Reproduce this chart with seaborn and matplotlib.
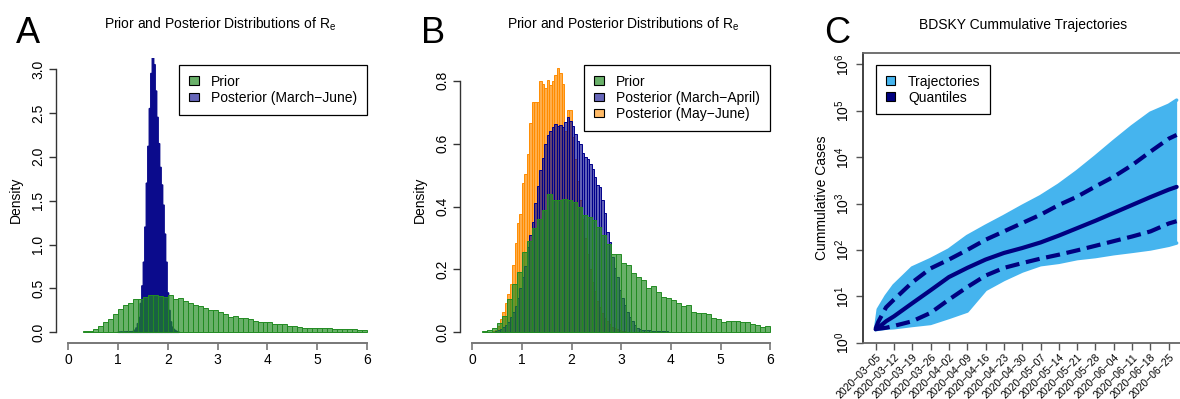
import numpy as np
import pandas as pd
import matplotlib
matplotlib.use("Agg")
import matplotlib.pyplot as plt
from matplotlib.patches import Patch
from matplotlib.colors import to_rgba
import seaborn as sns

# ---------------- DATA ----------------
# Panel A: prior (bins 0.1 wide from 0.3), posterior March-June (bins 0.03 wide from 0.995)
prior_a_start, prior_a_width = 0.3, 0.1
prior_a = [0.01, 0.015, 0.04, 0.07, 0.12, 0.155, 0.21, 0.265, 0.31, 0.34,
           0.375, 0.38, 0.405, 0.42, 0.42, 0.41, 0.405, 0.42, 0.375, 0.39,
           0.36, 0.33, 0.31, 0.30, 0.275, 0.255, 0.255, 0.23, 0.205, 0.18,
           0.185, 0.165, 0.16, 0.15, 0.135, 0.12, 0.115, 0.115, 0.095, 0.10,
           0.09, 0.07, 0.07, 0.06, 0.055, 0.055, 0.05, 0.05, 0.045, 0.045,
           0.04, 0.04, 0.038, 0.035, 0.035, 0.03, 0.03]
post_a_start, post_a_width = 0.995, 0.03
post_a = [0.002, 0.002, 0.003, 0.003, 0.003, 0.004, 0.004, 0.005,
          0.005, 0.008, 0.012, 0.025, 0.05, 0.10, 0.17, 0.33, 0.53, 0.80,
          1.20, 1.70, 2.12, 2.55, 2.95, 3.14, 3.05, 2.75, 2.45, 2.15,
          1.88, 1.68, 1.45, 1.12, 0.80, 0.45, 0.25, 0.12, 0.06, 0.035,
          0.02, 0.01, 0.005]

# Panel B: prior (bins 0.1 from 0.2), posteriors (bins 0.05)
prior_b_start, prior_b_width = 0.2, 0.1
prior_b = [0.003, 0.006, 0.015, 0.03, 0.052, 0.105, 0.154, 0.193, 0.255, 0.29,
           0.333, 0.36, 0.39, 0.44, 0.42, 0.42, 0.423, 0.42, 0.415, 0.40,
           0.373, 0.368, 0.357, 0.336, 0.31, 0.28, 0.25, 0.249, 0.22, 0.214,
           0.188, 0.175, 0.166, 0.14, 0.147, 0.128, 0.111, 0.108, 0.103, 0.094,
           0.084, 0.086, 0.066, 0.063, 0.062, 0.059, 0.045, 0.043, 0.033, 0.035,
           0.035, 0.035, 0.032, 0.033, 0.028, 0.022, 0.017, 0.019]
post_b_width = 0.05
mar_apr_start = 0.45
mar_apr = [0.004, 0.006, 0.01, 0.016, 0.024, 0.034, 0.048, 0.065, 0.085, 0.11,
           0.14, 0.175, 0.21, 0.27, 0.31, 0.35, 0.41, 0.465, 0.515, 0.555,
           0.60, 0.627, 0.641, 0.654, 0.664, 0.656, 0.66, 0.654, 0.67, 0.686,
           0.672, 0.655, 0.63, 0.61, 0.60, 0.57, 0.556, 0.55, 0.535, 0.52,
           0.495, 0.47, 0.462, 0.42, 0.38, 0.32, 0.288, 0.24, 0.203, 0.177,
           0.134, 0.108, 0.087, 0.066, 0.05, 0.036, 0.024, 0.015, 0.011, 0.009,
           0.008, 0.007, 0.006, 0.005, 0.005, 0.004, 0.004, 0.003, 0.003, 0.003,
           0.002, 0.002, 0.002, 0.002, 0.001, 0.001, 0.001]
may_jun_start = 0.40
may_jun = [0.003, 0.008, 0.02, 0.041, 0.066, 0.092, 0.122, 0.154, 0.214, 0.283,
           0.347, 0.376, 0.474, 0.505, 0.566, 0.666, 0.733, 0.731, 0.733, 0.798,
           0.79, 0.776, 0.804, 0.785, 0.80, 0.818, 0.84, 0.824, 0.79, 0.64,
           0.707, 0.707, 0.62, 0.55, 0.48, 0.42, 0.36, 0.30, 0.25, 0.20,
           0.16, 0.13, 0.10, 0.08, 0.06, 0.045, 0.035, 0.025, 0.018, 0.013,
           0.01, 0.007, 0.005, 0.003, 0.002, 0.001]

# Panel C: days since 2020-03-05, cumulative cases
traj_days = [0, 1, 4, 7, 14, 21, 28, 35, 42, 49, 56, 63, 70, 77, 84, 91, 98, 105, 112, 115]
traj_low = [1.9, 1.95, 2.05, 2.1, 2.35, 2.6, 3.5, 4.8, 14, 23, 35, 48, 54, 65, 72, 83, 93, 105, 126, 141]
traj_high = [2, 5.2, 10, 17, 41, 62, 100, 195, 324, 525, 871, 1410, 2510, 4900, 10200,
             21900, 45700, 89100, 132000, 170000]
q_low = [2, 2, 2.1, 2.3, 2.9, 4.4, 8.5, 15.8, 28, 41, 52, 65, 79, 98, 123, 155, 195, 251, 372, 417]
q_med = [1.95, 2.1, 2.9, 3.7, 7.1, 13.5, 26, 41, 62, 86, 110, 145, 204, 295, 427, 631, 933,
         1380, 2000, 2290]
q_high = [2, 2.8, 5.8, 8.5, 20, 40, 62, 100, 166, 251, 380, 575, 933, 1410, 2340, 3800, 6760,
          13200, 25100, 30200]
week_days = [0, 7, 14, 21, 28, 35, 42, 49, 56, 63, 70, 77, 84, 91, 98, 105, 112]
week_labels = ["2020-03-05", "2020-03-12", "2020-03-19", "2020-03-26", "2020-04-02",
               "2020-04-09", "2020-04-16", "2020-04-23", "2020-04-30", "2020-05-07",
               "2020-05-14", "2020-05-21", "2020-05-28", "2020-06-04", "2020-06-11",
               "2020-06-18", "2020-06-25"]

# ---------------- STYLE ----------------
sns.set_style("white")
plt.rcParams["font.family"] = ["Liberation Sans", "DejaVu Sans"]
plt.rcParams["mathtext.fontset"] = "custom"
plt.rcParams["mathtext.rm"] = "Liberation Sans"
for k in ["text.color", "axes.labelcolor", "xtick.color", "ytick.color"]:
    plt.rcParams[k] = "black"

GREEN, BLUE, ORANGE = "#228B22", "#00008B", "#FF8C00"
LIGHT, NAVY = "#45B4EE", "#000080"
W, H = 1180, 399


def px(x, y):
    return x / W, 1 - y / H


def hist(ax, start, width, dens, color, alpha, lw=0.7, **kw):
    edges = start + width * np.arange(len(dens) + 1)
    df = pd.DataFrame({"mid": edges[:-1] + width / 2, "dens": dens})
    sns.histplot(data=df, x="mid", weights="dens", bins=list(edges), ax=ax,
                 color=color, alpha=alpha, edgecolor=color, linewidth=lw, **kw)


def r_axes(ax, xticks, yticks, ylabels):
    ax.set_xlim(-0.24, 6.24)
    for s in ["top", "right"]:
        ax.spines[s].set_visible(False)
    ax.set_xticks(xticks)
    ax.set_yticks(yticks)
    ax.set_yticklabels(ylabels, rotation=90, va="center")
    ax.spines["bottom"].set_bounds(xticks[0], xticks[-1])
    ax.spines["left"].set_bounds(yticks[0], yticks[-1])
    ax.spines["bottom"].set_color("#777777")
    ax.spines["bottom"].set_linewidth(1.4)
    ax.spines["left"].set_color("#333333")
    ax.spines["left"].set_linewidth(1.0)
    ax.tick_params(axis="x", bottom=True, direction="out", length=5, width=1.2,
                   color="#777777", labelsize=10, pad=2)
    ax.tick_params(axis="y", left=True, direction="out", length=5, width=1.0,
                   color="#333333", labelsize=10, pad=3)
    ax.set_xlabel("")
    ax.set_ylabel("")
    ax.grid(False)


def legend(ax, handles, labels, loc, anchor):
    leg = ax.legend(handles, labels, loc=loc, bbox_to_anchor=anchor, fontsize=10,
                    frameon=True, fancybox=False, framealpha=1, edgecolor="black",
                    borderpad=0.7, handlelength=0.7, handleheight=0.6,
                    handletextpad=0.9, labelspacing=0.15, borderaxespad=0)
    leg.get_frame().set_linewidth(0.9)


def box(c, a):
    return Patch(facecolor=to_rgba(c, a), edgecolor="black", linewidth=0.8)


fig = plt.figure(figsize=(W / 100, H / 100), dpi=100)

# ---------------- PANEL A ----------------
ax_a = fig.add_axes([56.4 / W, 0.1406, 322.6 / W, 0.715])
hist(ax_a, post_a_start, post_a_width, post_a, "#0B0B8C", 1.0, lw=1.0, snap=False)
hist(ax_a, prior_a_start, prior_a_width, prior_a, GREEN, 0.68)
ax_a.set_ylim(-0.12, 3.13)
r_axes(ax_a, range(7), [0, 0.5, 1, 1.5, 2, 2.5, 3],
       ["0.0", "0.5", "1.0", "1.5", "2.0", "2.5", "3.0"])
legend(ax_a, [box(GREEN, 0.68), box(BLUE, 0.6)], ["Prior", "Posterior (March\u2212June)"],
       "upper right", (0.963, 0.974))

# ---------------- PANEL B ----------------
ax_b = fig.add_axes([460.4 / W, 0.1406, 321.8 / W, 0.715])
hist(ax_b, may_jun_start, post_b_width, may_jun, ORANGE, 0.7)
hist(ax_b, mar_apr_start, post_b_width, mar_apr, BLUE, 0.62)
hist(ax_b, prior_b_start, prior_b_width, prior_b, GREEN, 0.68)
ax_b.set_ylim(-0.0336, 0.8736)
r_axes(ax_b, range(7), [0, 0.2, 0.4, 0.6, 0.8], ["0.0", "0.2", "0.4", "0.6", "0.8"])
legend(ax_b, [box(GREEN, 0.68), box(BLUE, 0.6), box(ORANGE, 0.6)],
       ["Prior", "Posterior (March\u2212April)", "Posterior (May\u2212June)"],
       "upper right", (0.962, 0.974))

# ---------------- PANEL C ----------------
ax_c = fig.add_axes([863.3 / W, 0.1411, 333.5 / W, 0.7253])
ax_c.fill_between(traj_days, traj_low, traj_high, color=LIGHT, lw=0)
for edge in (traj_low, traj_high):
    ax_c.plot(traj_days, edge, color=LIGHT, lw=2.5, solid_capstyle="round")
sns.lineplot(x=traj_days, y=q_med, ax=ax_c, color=NAVY, lw=3, estimator=None)
for q in (q_low, q_high):
    sns.lineplot(x=traj_days, y=q, ax=ax_c, color=NAVY, lw=3, estimator=None,
                 linestyle=(0, (3.4, 1.6)))
ax_c.set_yscale("log")
ax_c.set_ylim(1, 10 ** 6.24)
ax_c.set_xlim(-4.7, 122.7)
ax_c.set_yticks([10 ** k for k in range(7)])
ax_c.set_yticklabels([r"$\mathregular{10^{%d}}$" % k for k in range(7)], rotation=90,
                     va="center")
ax_c.minorticks_off()
ax_c.set_xticks(week_days)
ax_c.set_xticklabels([d.replace("-", "\u2212") for d in week_labels], rotation=45,
                     ha="right", va="top", rotation_mode="anchor", fontsize=7.5)
for s in ax_c.spines.values():
    s.set_color("#666666")
    s.set_linewidth(1.3)
ax_c.spines["left"].set_color("#333333")
ax_c.tick_params(axis="both", bottom=True, left=True, direction="out", length=5,
                 width=1.0, color="#555555", labelsize=10, pad=3)
ax_c.tick_params(axis="x", labelsize=7.5, pad=2)
ax_c.set_xlabel("")
ax_c.set_ylabel("")
ax_c.grid(False)
legend(ax_c, [box(LIGHT, 1), box(NAVY, 1)], ["Trajectories", "Quantiles"],
       "upper left", (0.038, 0.96))

# ---------------- TEXT ----------------
title_re = r"Prior and Posterior Distributions of R$_{\mathregular{e}}$"
fig.text(*px(220, 29), title_re, ha="center", va="baseline", fontsize=10)
fig.text(*px(623, 29), title_re, ha="center", va="baseline", fontsize=10)
fig.text(*px(1023, 29), "BDSKY Cummulative Trajectories", ha="center", va="baseline",
         fontsize=10)
for lab, x in (("A", 16), ("B", 421), ("C", 824)):
    fig.text(*px(x, 43), lab, ha="left", va="baseline", fontsize=26)
fig.text(*px(16, 200), "Density", rotation=90, ha="center", va="center", fontsize=10)
fig.text(*px(420, 200), "Density", rotation=90, ha="center", va="center", fontsize=10)
fig.text(*px(822, 198), "Cummulative Cases", rotation=90, ha="center", va="center",
         fontsize=10)

fig.savefig("out.png", dpi=100)
